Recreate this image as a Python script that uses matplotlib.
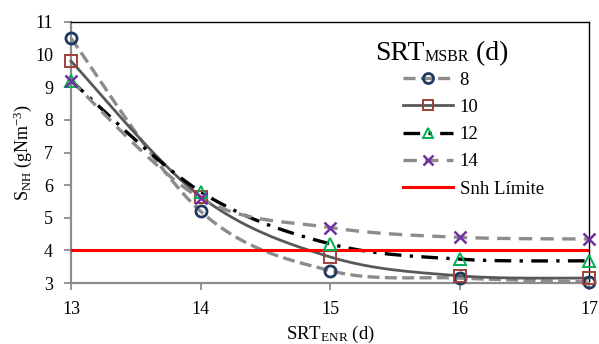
import numpy as np
import matplotlib
matplotlib.use("Agg")
import matplotlib.pyplot as plt
from matplotlib.lines import Line2D

plt.rcParams['font.family'] = ['Liberation Serif', 'DejaVu Serif']
plt.rcParams['mathtext.fontset'] = 'custom'
plt.rcParams['mathtext.rm'] = 'Liberation Serif'

srt_enr = [13, 14, 15, 16, 17]
series_labels = ['8', '10', '12', '14']
s8 = [10.5, 5.2, 3.38, 3.15, 3.03]
s10 = [9.8, 5.65, 3.8, 3.22, 3.15]
s12 = [9.2, 5.8, 4.2, 3.73, 3.68]
s14 = [9.2, 5.6, 4.7, 4.4, 4.35]
limit_label = 'Snh Límite'
limit_value = 4.0
xticks = [13, 14, 15, 16, 17]
yticks = [3, 4, 5, 6, 7, 8, 9, 10, 11]


def smooth(x, y, n=40):
    x = np.asarray(x, float)
    y = np.asarray(y, float)
    pts = np.column_stack([x, y])
    out = []
    m = len(pts)
    for i in range(m - 1):
        p0 = pts[i - 1] if i > 0 else pts[i]
        p1 = pts[i]
        p2 = pts[i + 1]
        p3 = pts[i + 2] if i + 2 < m else pts[i + 1]
        c1 = p1 + (p2 - p0) / 6.0
        c2 = p2 - (p3 - p1) / 6.0
        t = np.linspace(0, 1, n)[:, None]
        seg = ((1 - t) ** 3) * p1 + 3 * ((1 - t) ** 2) * t * c1 + 3 * (1 - t) * t ** 2 * c2 + t ** 3 * p2
        if i > 0:
            seg = seg[1:]
        out.append(seg)
    s = np.vstack(out)
    return s[:, 0], s[:, 1]


W, H = 599, 344
fig = plt.figure(figsize=(W / 100, H / 100), dpi=100)
ax = fig.add_axes([71 / W, 1 - 283 / H, (589 - 71) / W, (283 - 22) / H])

styles = [
    dict(data=s8, color='#8C8C8C', ls=(0, (3.6, 1.6)), lw=2.4, marker='o', mec='#1F3A5F', ms=8, mew=2.0),
    dict(data=s10, color='#595959', ls='-', lw=2.0, marker='s', mec='#A0403C', ms=8, mew=1.4),
    dict(data=s12, color='#000000', ls=(0, (5, 2.5, 1, 2.5)), lw=2.4, marker='^', mec='#00B050', ms=8, mew=1.4),
    dict(data=s14, color='#8C8C8C', ls=(0, (4, 2.5)), lw=2.4, marker='x', mec='#7030A0', ms=8, mew=1.8),
]

handles = []
for lab, st in zip(series_labels, styles):
    xs, ys = smooth(srt_enr, st['data'])
    ax.plot(xs, ys, color=st['color'], ls=st['ls'], lw=st['lw'], zorder=3, clip_on=False)
    ax.plot(srt_enr, st['data'], ls='none', marker=st['marker'], mfc='none', mec=st['mec'],
            ms=st['ms'], mew=st['mew'], zorder=4, clip_on=False)
    handles.append(Line2D([], [], color=st['color'], ls=st['ls'], lw=st['lw'], marker=st['marker'],
                          mfc='none', mec=st['mec'], ms=st['ms'] * 0.9, mew=st['mew'], label=lab))

ax.plot([xticks[0], xticks[-1]], [limit_value, limit_value], color='#FF0000', lw=2.2, zorder=3)
handles.append(Line2D([], [], color='#FF0000', lw=2.2, label=limit_label))

ax.set_xlim(13, 17)
ax.set_ylim(3, 11)
ax.set_xticks(xticks)
ax.set_yticks(yticks)
ax.tick_params(axis='both', labelsize=13, direction='out', length=5, width=1.3, color='#8C8C8C')
ax.tick_params(axis='x', pad=8)
ax.tick_params(axis='y', pad=8)

for side in ['left', 'bottom']:
    ax.spines[side].set_color('#8C8C8C')
    ax.spines[side].set_linewidth(1.6)
for side in ['top', 'right']:
    ax.spines[side].set_color('#000000')
    ax.spines[side].set_linewidth(1.0)

ax.set_ylabel(r'$\mathregular{S_{NH}}$ (gNm$\mathregular{^{-3}}$)', fontsize=13, labelpad=1)
ax.set_xlabel(r'$\mathregular{SRT_{ENR}}$ (d)', fontsize=13.5, labelpad=4)

leg = ax.legend(handles=handles, loc='upper left', bbox_to_anchor=(403 / W, 1 - 71.5 / H),
                bbox_transform=fig.transFigure, frameon=False,
                fontsize=13.5, handlelength=2.67, labelspacing=0.54, handletextpad=0.35,
                borderpad=0, borderaxespad=0)

# legend title built from pieces (large main text, small subscript)
t1 = fig.text(375 / W, 1 - 60 / H, 'SRT', fontsize=20, va='baseline', ha='left')
t2 = ax.annotate('MSBR', xy=(1, 0), xycoords=t1, xytext=(0, 1), textcoords='offset points',
                 fontsize=11.5, va='bottom', ha='left', annotation_clip=False)
t3 = ax.annotate(' (d)', xy=(1, 0), xycoords=t2, xytext=(0, -1), textcoords='offset points',
                 fontsize=20, va='bottom', ha='left', annotation_clip=False)

fig.savefig('out.png', dpi=100)
